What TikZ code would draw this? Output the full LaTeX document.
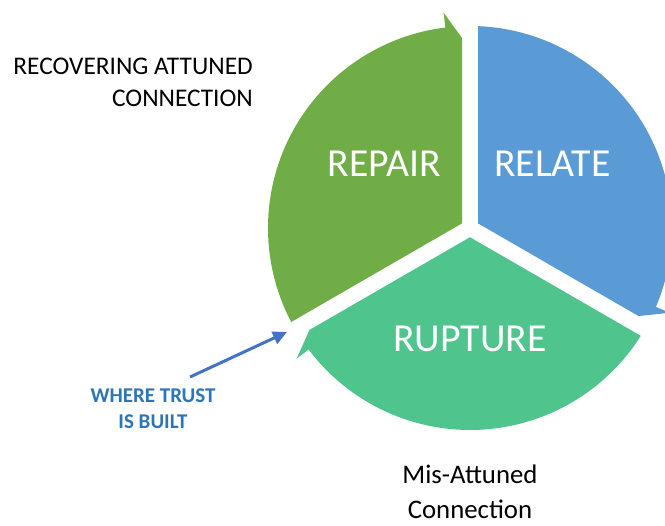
\documentclass[tikz,border=0pt]{standalone}
\usepackage{fontspec}
\setmainfont{Carlito}
\usetikzlibrary{calc,arrows.meta}
\definecolor{repairgreen}{HTML}{70AD47}
\definecolor{relateblue}{HTML}{5B9BD5}
\definecolor{rupturegreen}{HTML}{4FC48D}
\definecolor{trustblue}{HTML}{2E75B6}
\definecolor{arrowblue}{HTML}{4472C4}
\begin{document}
\begin{tikzpicture}[x=1pt,y=1pt,
  seglabel/.style={text=white,font=\fontsize{39.7}{40}\selectfont,anchor=base,inner sep=0pt},
  blacklabel/.style={text=black,inner sep=0pt},
  trustlabel/.style={text=trustblue,font=\bfseries\fontsize{21}{24}\selectfont,anchor=base,inner sep=0pt},
  pointer/.style={draw=arrowblue,line width=3pt,-{Triangle[length=14pt,width=13pt]}}]
\useasboundingbox (0,0) rectangle (665,526);
\clip (0,0) rectangle (665,526);
\coordinate (C) at (470,298);
% REPAIR segment (head at top)
\fill[repairgreen] ($(C)+(150:9.24)$) -- ($(C)+(210:201.84)+(120:8)$)
  arc[start angle=207.73,end angle=97,radius=202]
  -- ($(C)+(97:217)$) -- ($(C)+(90:190)+(180:8)$) -- cycle;
% RELATE segment (head at lower right)
\fill[relateblue] ($(C)+(30:9.24)$) -- ($(C)+(90:201.84)+(0:8)$)
  arc[start angle=87.73,end angle=-23,radius=202]
  -- ($(C)+(-23:217)$) -- ($(C)+(-30:190)+(60:8)$) -- cycle;
% RUPTURE segment (head at left)
\fill[rupturegreen] ($(C)+(-90:9.24)$) -- ($(C)+(-30:201.84)+(-120:8)$)
  arc[start angle=-32.27,end angle=-143,radius=202]
  -- ($(C)+(-143:217)$) -- ($(C)+(-150:190)+(-60:8)$) -- cycle;
% segment labels
\node[seglabel] (repair) at (384,349) {REPAIR};
\node[seglabel] (relate) at (552.5,349) {RELATE};
\node[seglabel] (rupture) at (470,174) {RUPTURE};
% side texts
\node[blacklabel,anchor=base east,font=\fontsize{25.4}{30}\selectfont] (rec1) at (253,451) {RECOVERING ATTUNED};
\node[blacklabel,anchor=base east,font=\fontsize{25.4}{30}\selectfont] (rec2) at (253,419) {CONNECTION};
\node[blacklabel,anchor=base,font=\fontsize{26.8}{30}\selectfont] (mis1) at (470,42) {Mis-Attuned};
\node[blacklabel,anchor=base,font=\fontsize{26.8}{30}\selectfont] (mis2) at (470,7) {Connection};
\node[trustlabel] (trust1) at (153,123) {WHERE TRUST};
\node[trustlabel] (trust2) at (153,97) {IS BUILT};
% pointer arrow
\coordinate (src) at ($(trust1.north)+(37,12)$);
\coordinate (gap) at (287,194);
\draw[pointer] (src) -- (gap);
\end{tikzpicture}
\end{document}
